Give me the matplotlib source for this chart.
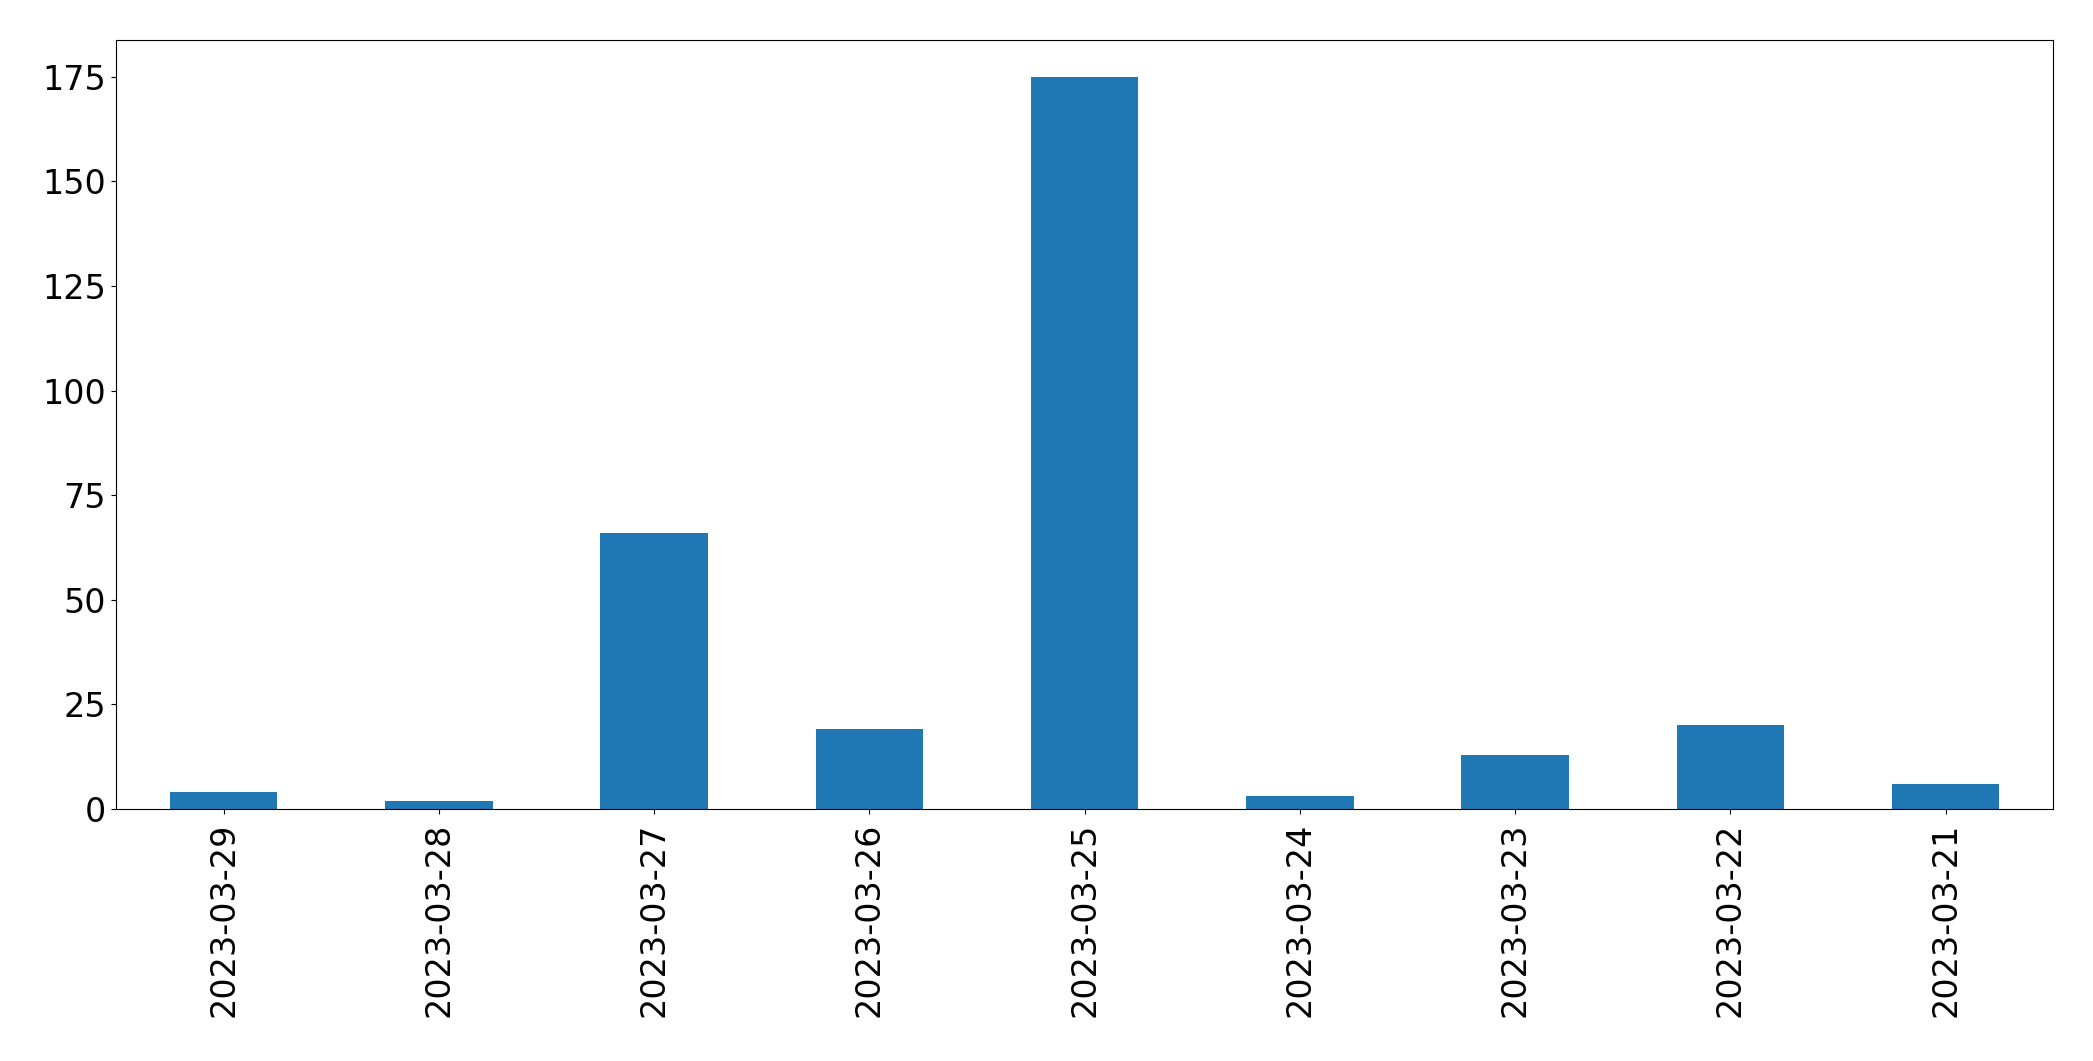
import matplotlib
matplotlib.use("Agg")
import matplotlib.pyplot as plt
import numpy as np

# daily counts, newest first (as in the reference)
dates = ["2023-03-29", "2023-03-28", "2023-03-27", "2023-03-26", "2023-03-25",
         "2023-03-24", "2023-03-23", "2023-03-22", "2023-03-21"]
counts = [4, 2, 66, 19, 175, 3, 13, 20, 6]

fig = plt.figure(figsize=(20.93, 10.61), dpi=100)
ax = fig.add_axes([0.0554, 0.2375, 0.9256, 0.7248])

x = np.arange(len(dates))
ax.bar(x, counts, width=0.5, color="#1f77b4")
ax.set_xticks(x)
ax.set_xticklabels(dates, rotation=90)
ax.set_xlim(-0.5, len(dates) - 0.5)
ax.set_yticks([0, 25, 50, 75, 100, 125, 150, 175])
ax.tick_params(axis="both", labelsize=24)
ax.tick_params(axis="x", pad=6.5)

fig.savefig("out.png", dpi=100)
